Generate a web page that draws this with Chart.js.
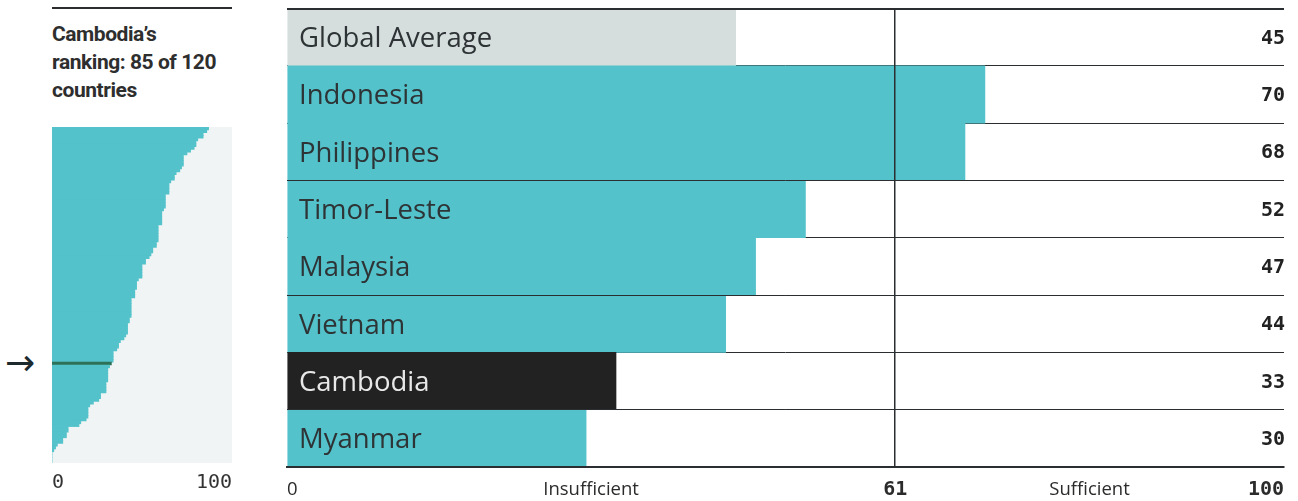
<!DOCTYPE html>
<html>
<head>
<meta charset="utf-8">
<script src="https://cdn.jsdelivr.net/npm/chart.js@4.4.1/dist/chart.umd.min.js"></script>
<style>
  html, body { margin: 0; padding: 0; background: #fff; }
  body { width: 1298px; height: 501px; position: relative; overflow: hidden; }
  .rule { position: absolute; left: 52px; top: 7px; width: 180px; height: 2px; background: #2a2e30; }
  .title { position: absolute; left: 52px; top: 20px; width: 200px; font: bold 21px/28px Roboto, sans-serif; letter-spacing: -0.45px; color: #2e2e2e; }
  .arrow { position: absolute; left: 5px; top: 345px; font: 36px/36px "DejaVu Sans", sans-serif; color: #1d2a2d; }
  #rankWrap { position: absolute; left: 40px; top: 110px; width: 210px; height: 393px; }
  #mainWrap { position: absolute; left: 260px; top: -20px; width: 1038px; height: 533px; }
</style>
</head>
<body>
<div class="rule"></div>
<div class="title" id="title"></div>
<div class="arrow">→</div>
<div id="rankWrap"><canvas id="rankChart" width="210" height="393"></canvas></div>
<div id="mainWrap"><canvas id="mainChart" width="1038" height="533"></canvas></div>

<script>
// Main comparison chart
const categories = ['Global Average', 'Indonesia', 'Philippines', 'Timor-Leste', 'Malaysia', 'Vietnam', 'Cambodia', 'Myanmar'];
const scores = [45, 70, 68, 52, 47, 44, 33, 30];
const threshold = 61;
const xTickValues = [0, 30.5, 61, 80.5, 100];
const xTickLabels = ['0', 'Insufficient', '61', 'Sufficient', '100'];

// Small ranking chart, all 120 countries sorted high to low
const countryScores = [
  87, 86, 84, 84, 81, 80, 80, 79, 77, 75,
  73, 73, 73, 73, 72, 71, 69, 68, 68, 66,
  65, 65, 65, 65, 63, 63, 63, 63, 63, 62,
  61, 61, 61, 61, 61, 59, 59, 59, 59, 59,
  59, 58, 58, 56, 56, 55, 54, 52, 52, 50,
  50, 50, 50, 50, 48, 47, 47, 47, 46, 46,
  46, 44, 44, 44, 44, 44, 44, 44, 43, 43,
  42, 42, 42, 42, 41, 40, 38, 37, 37, 36,
  34, 34, 34, 34, 33, 32, 31, 31, 31, 31,
  31, 30, 30, 30, 30, 27, 27, 26, 23, 21,
  20, 20, 20, 20, 19, 16, 15, 9, 9, 8,
  8, 6, 6, 3, 2, 1, 0, 0, 0, 0
];
const cambodiaRank = 85;
const rankTickValues = [0, 100];
const rankTickLabels = ['0', '100'];

const TEAL = '#53c2ca';
const GREY = '#d5dedd';
const INK = '#222222';
const LINE = '#2a2e30';
const GREEN = '#2d7159';
const CLEAR = 'rgba(0,0,0,0)';
const SANS = '"Open Sans", sans-serif';
const MONO = '"DejaVu Sans Mono", monospace';

// rows whose top separator runs over the bars too
const groupStarts = [0, 3, 5, 7];

document.getElementById('title').innerHTML =
  'Cambodia’s<br>ranking: ' + cambodiaRank + ' of ' + countryScores.length + '<br>countries';

// light panel behind the ranking bars
const plotBackground = {
  id: 'plotBackground',
  beforeDatasetsDraw(chart, args, opts) {
    const { ctx, chartArea: a } = chart;
    ctx.save();
    ctx.fillStyle = opts.color;
    ctx.fillRect(a.left, a.top, a.right - a.left, a.bottom - a.top);
    ctx.restore();
  }
};

new Chart(document.getElementById('rankChart'), {
  type: 'bar',
  data: {
    labels: countryScores.map((_, i) => i + 1),
    datasets: [{
      data: countryScores,
      backgroundColor: ctx => ctx.dataIndex === cambodiaRank - 1 ? GREEN : TEAL,
      borderWidth: 0,
      barPercentage: 1,
      categoryPercentage: 1
    }]
  },
  options: {
    indexAxis: 'y',
    responsive: false,
    animation: false,
    events: [],
    layout: { padding: { left: 12, right: 18, top: 17, bottom: 0 } },
    plugins: {
      legend: { display: false },
      tooltip: { enabled: false },
      plotBackground: { color: '#f0f4f4' }
    },
    scales: {
      x: {
        type: 'linear',
        min: 0,
        max: 100,
        afterBuildTicks: axis => { axis.ticks = rankTickValues.map(v => ({ value: v })); },
        ticks: {
          align: 'inner',
          padding: 8,
          color: '#333',
          font: { family: MONO, size: 20, lineHeight: '24px' },
          callback: (v, i) => rankTickLabels[i]
        },
        grid: { display: false, drawTicks: false },
        border: { display: false }
      },
      y: { display: false }
    }
  },
  plugins: [plotBackground]
});

new Chart(document.getElementById('mainChart'), {
  type: 'bar',
  data: {
    labels: categories,
    datasets: [{
      data: scores,
      yAxisID: 'y',
      backgroundColor: ctx => {
        const name = categories[ctx.dataIndex];
        if (name === 'Global Average') return GREY;
        if (name === 'Cambodia') return INK;
        return TEAL;
      },
      borderWidth: 0,
      barPercentage: 1,
      categoryPercentage: 1
    }]
  },
  options: {
    indexAxis: 'y',
    responsive: false,
    animation: false,
    events: [],
    layout: { padding: { left: 3, right: 12, top: 0, bottom: 0 } },
    plugins: {
      legend: { display: false },
      tooltip: { enabled: false }
    },
    scales: {
      x: {
        type: 'linear',
        min: 0,
        max: 100,
        afterBuildTicks: axis => { axis.ticks = xTickValues.map(v => ({ value: v })); },
        ticks: {
          align: 'inner',
          padding: 12,
          color: '#2b2b2b',
          callback: (v, i) => xTickLabels[i],
          font: ctx => {
            const v = ctx.tick ? ctx.tick.value : 0;
            if (v === threshold || v === 100) {
              return { family: MONO, size: 20, weight: 'bold', lineHeight: '22px' };
            }
            return { family: SANS, size: 18.5, lineHeight: '22px' };
          }
        },
        grid: {
          z: 1,
          drawTicks: false,
          lineWidth: 1.5,
          color: ctx => (ctx.tick && ctx.tick.value === threshold) ? LINE : CLEAR
        },
        border: { display: true, color: LINE, width: 2, z: 1 }
      },
      y: {
        type: 'category',
        position: 'left',
        offset: true,
        grid: {
          offset: true,
          z: 1,
          drawTicks: false,
          color: ctx => groupStarts.includes(ctx.index) ? LINE : CLEAR,
          lineWidth: ctx => ctx.index === 0 ? 2 : 1
        },
        border: { display: false },
        ticks: {
          mirror: true,
          padding: 12,
          labelOffset: 2,
          z: 1,
          color: ctx => categories[ctx.index] === 'Cambodia' ? '#e8e8e8' : '#2e3335',
          font: { family: SANS, size: 27.5 }
        }
      },
      y2: {
        type: 'category',
        position: 'left',
        offset: true,
        grid: { offset: true, drawTicks: false, color: LINE, lineWidth: 1 },
        border: { display: false },
        ticks: { display: false }
      },
      yv: {
        type: 'category',
        position: 'right',
        labels: scores.map(String),
        offset: true,
        grid: { display: false, drawTicks: false },
        border: { display: false },
        ticks: {
          mirror: true,
          padding: 1,
          labelOffset: 1.5,
          z: 1,
          color: '#222',
          font: { family: MONO, size: 20, weight: 'bold' }
        }
      }
    }
  }
});
</script>
</body>
</html>
